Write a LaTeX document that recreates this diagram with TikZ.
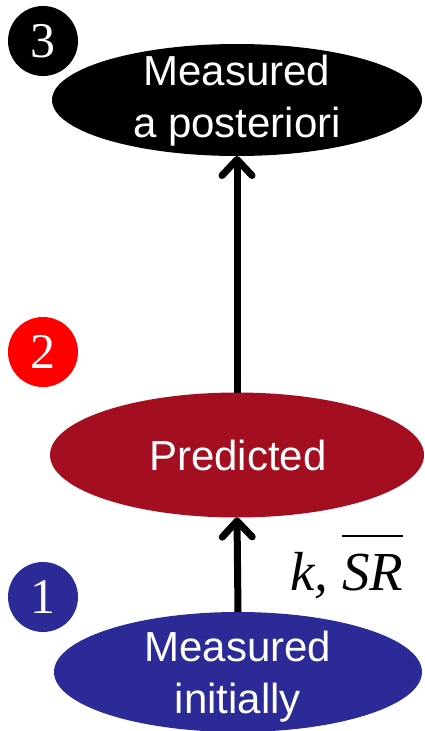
\documentclass[tikz,border=0pt]{standalone}
\usepackage{fontspec}
\setmainfont{Liberation Sans}
\newfontfamily\numfont{Liberation Serif}
\usetikzlibrary{shapes.geometric,arrows.meta}

\definecolor{stageblack}{HTML}{000000}
\definecolor{stagered}{HTML}{A30E20}
\definecolor{badgered}{HTML}{FF0000}
\definecolor{stageblue}{HTML}{2B2A96}

% overline set well above the letters, as in an equation editor
\newcommand\hiline[1]{\leavevmode\setbox0\hbox{#1}%
  \rlap{\rule[\dimexpr\ht0+17pt\relax]{\wd0}{2pt}}\box0}

\tikzset{
  stage/.style={ellipse, draw=none, inner sep=0pt, outer sep=0pt},
  stagetext/.style={text=white, align=center, inner sep=0pt,
    font=\fontsize{42}{52}\selectfont},
  badge/.style={circle, draw=none, inner sep=0pt, minimum size=70pt,
    text=white, font=\numfont\fontsize{50}{50}\selectfont},
  flow/.style={line width=7pt,
    -{Straight Barb[length=16pt,width=30pt,round]}},
}

\begin{document}
\begin{tikzpicture}[x=1pt,y=-1pt]
  \useasboundingbox (0,0) rectangle (424,731);
  \clip (0,0) rectangle (424,731);

  % the three stages
  \node[stage, fill=stageblack, minimum width=370pt, minimum height=112pt]
    (post) at (237,100) {};
  \node[stage, fill=stagered, minimum width=374pt, minimum height=125pt]
    (pred) at (237,455) {};
  \node[stage, fill=stageblue, minimum width=368pt, minimum height=120pt]
    (init) at (238,672) {};

  \node[stagetext] (posttext) at (237,101) {Measured\\a posteriori};
  \node[stagetext, anchor=base] (predtext) at (238,470) {Predicted};
  \node[stagetext] (inittext) at (238,677) {Measured\\initially};

  % numbered badges
  \node[badge, fill=stageblack] (b3) at (43,41) {3};
  \node[badge, fill=badgered] (b2) at (43,352) {2};
  \node[badge, fill=stageblue] (b1) at (43,597) {1};

  % connectors
  \draw[flow] (pred.north) -- (post.south);
  \draw[flow] (init.north) -- (pred.south);

  % parameter label
  \node[anchor=base west, inner sep=0pt,
    font=\numfont\itshape\fontsize{55}{55}\selectfont]
    (param) at (290,590) {k, \hiline{SR}};
\end{tikzpicture}
\end{document}
